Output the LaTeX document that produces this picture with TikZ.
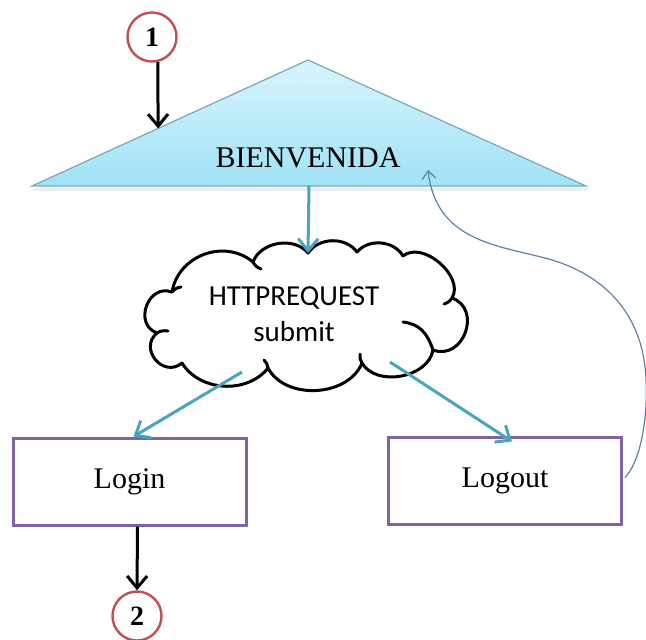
\documentclass[tikz,border=0pt]{standalone}
\usepackage{fontspec}
\setmainfont{Liberation Serif}
\newfontfamily\calibri{Carlito}
\usetikzlibrary{arrows.meta, calc}

\definecolor{skytop}{RGB}{216,244,252}
\definecolor{skybottom}{RGB}{160,226,246}
\definecolor{skyedge}{RGB}{120,168,182}
\definecolor{flowteal}{RGB}{74,163,193}
\definecolor{boxpurple}{RGB}{128,100,162}
\definecolor{markred}{RGB}{192,80,77}
\definecolor{curveblue}{RGB}{96,128,168}

\begin{document}
\begin{tikzpicture}[
	x=0.5pt, y=-0.5pt,
	>={Straight Barb[length=6pt, width=10pt]},
	marknode/.style={circle, draw=markred, line width=1.2pt, minimum size=24.5pt, inner sep=0pt, font=\bfseries\fontsize{14}{16}\selectfont},
	boxnode/.style={rectangle, draw=boxpurple, line width=1.5pt, minimum width=116.5pt, minimum height=43.5pt, font=\fontsize{15}{18}\selectfont, text height=10pt, text depth=3pt},
	inkline/.style={line width=1.5pt, line cap=round, line join=round},
	blackarrow/.style={->, line width=1.5pt, black},
	tealarrow/.style={->, line width=1.5pt, flowteal},
	backarrow/.style={-{Straight Barb[length=4pt, width=7pt]}, line width=0.6pt, curveblue}
	]

	\useasboundingbox (0, 0) rectangle (646, 639);

	\coordinate (west) at (32, 186);
	\coordinate (apex) at (308, 60);
	\coordinate (east) at (586, 186);
	\fill [black!7] ($(west)+(4, 2)$) -- ($(east)+(4, 2)$) -- ($(east)+(0, 5)$) -- ($(west)+(0, 5)$) -- cycle;
	\draw [top color = skytop, bottom color = skybottom, draw = skyedge, line width=0.6pt] (west) -- (apex) -- (east) -- cycle;
	\node (welcome) at (308, 158) [font=\fontsize{15}{18}\selectfont] {BIENVENIDA};
	\coordinate (hit) at ($(west)!0.457!(apex)$);
	\coordinate (base) at ($(west)!0.5!(east)$);

	\draw [inkline, fill=white] (172, 292) coordinate (c11)
		to [bend left=60, looseness=1.1] (253, 262) coordinate (c1)
		to [bend left=60] (308, 253) coordinate (cloudtop)
		to [bend left=55] (357, 252)
		to [bend left=55] (403, 256)
		to [bend left=80] (452, 298) coordinate (c5)
		to [bend left=90, looseness=1.5] (433, 350) coordinate (c6)
		to [bend left=70] (362, 363) coordinate (c7)
		to [bend left=65] (268, 368) coordinate (c8)
		to [bend left=55] (182, 363)
		to [bend left=90, looseness=1.6] (157, 333) coordinate (c10)
		to [bend left=90, looseness=1.5] (c11);
	\draw [inkline] (c10) to [bend left=20] ++(11, -2);
	\draw [inkline] (c11) to [bend left=20] ++(9, -5);
	\draw [inkline] (c1) to [bend right=20] ++(8, 7);
	\draw [inkline] (c5) to [bend left=20] ++(-8, 6);
	\draw [inkline] (c6) .. controls ++(-6, -18) and ++(16, 2) .. ++(-30, -28);
	\draw [inkline] (c7) to [bend left=20] ++(-2, -9);
	\draw [inkline] (c8) to [bend right=20] ++(-4, -8);
	\node (request) at (294, 314) [align=center, font=\calibri\fontsize{14.5}{18}\selectfont] {HTTPREQUEST\\submit};

	\node (login) at (129.5, 481.5) [boxnode] {Login};
	\node (logout) at (505, 480.5) [boxnode] {Logout};
	\node (start) at (152, 37) [marknode] {1};
	\node (finish) at (137, 616) [marknode] {2};

	\draw [blackarrow] (start.-77) -- (hit);
	\draw [tealarrow] (base) -- (cloudtop);
	\draw [tealarrow] ($(request.center)+(-52, 58)$) -- ($(login.north)+(4, 0)$);
	\draw [tealarrow] ($(request.center)+(96, 48)$) -- ($(logout.north)+(7, 6)$);
	\draw [blackarrow] ($(login.south)+(8, 0)$) -- (finish.north);

	\coordinate (hook) at (428, 170);
	\draw [backarrow] ($(logout.east)+(2, -3)$) .. controls (640, 462) and (648, 420) .. (646, 380) .. controls (644, 320) and (610, 275) .. (545, 258) .. controls (495, 245) and (436, 240) .. (hook);
\end{tikzpicture}
\end{document}
